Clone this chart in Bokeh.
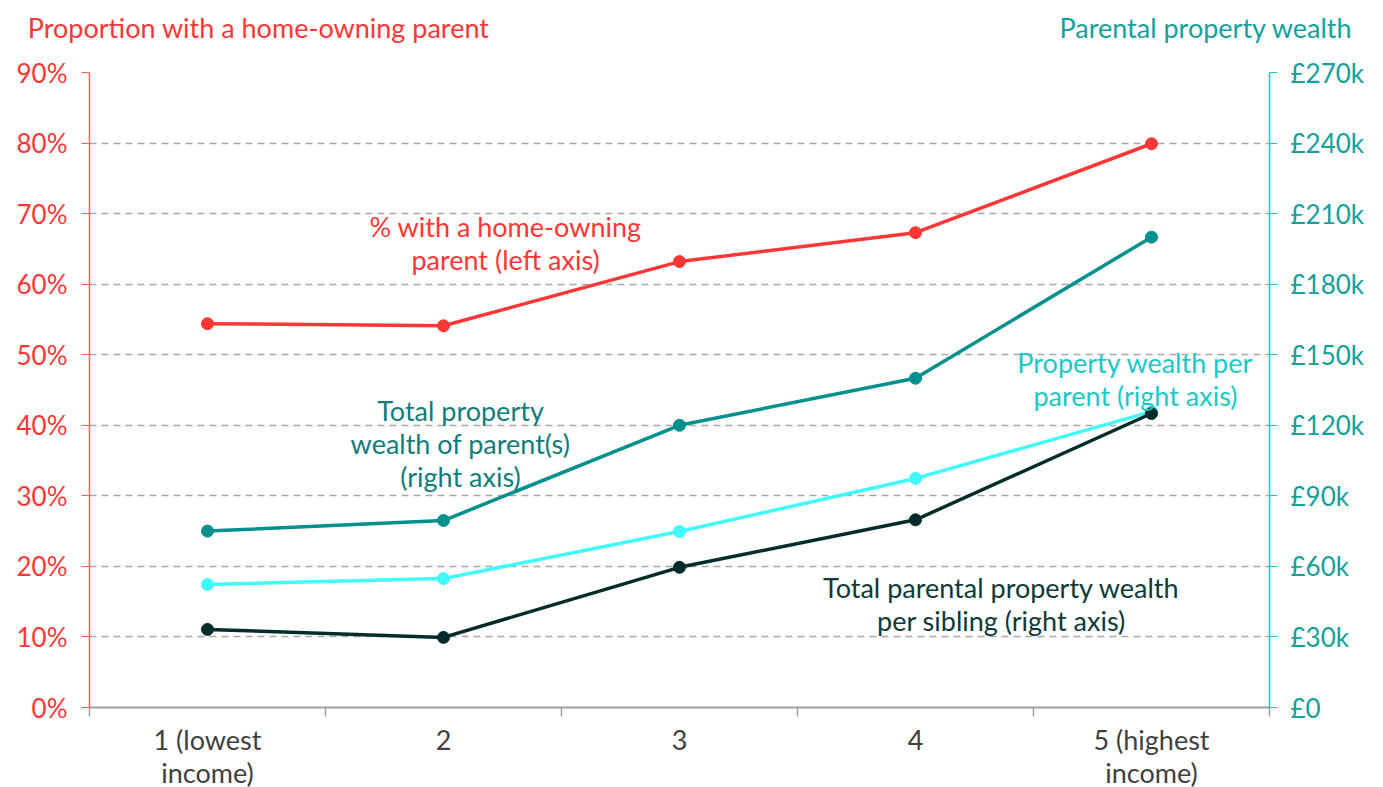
from bokeh.plotting import figure
from bokeh.layouts import column
from bokeh.models import (Range1d, LinearAxis, FixedTicker, Label, ColumnDataSource)
from bokeh.embed import file_html
from bokeh.resources import INLINE

# ---- data ----
categories = ["1 (lowest\nincome)", "2", "3", "4", "5 (highest\nincome)"]
quintile = [1, 2, 3, 4, 5]
pct_home_owning_parent = [54.4, 54.1, 63.2, 67.3, 79.9]          # left axis, %
total_parent_wealth_k = [75.0, 79.5, 120.0, 140.0, 200.0]        # right axis, £k
wealth_per_parent_k = [52.3, 54.8, 74.8, 97.4, 125.8]            # right axis, £k
wealth_per_sibling_k = [33.2, 29.8, 59.6, 79.8, 125.0]           # right axis, £k
left_ticks = [0, 10, 20, 30, 40, 50, 60, 70, 80, 90]
right_ticks = [0, 30, 60, 90, 120, 150, 180, 210, 240, 270]
left_title = "Proportion with a home-owning parent"
right_title = "Parental property wealth"

FONT = "Lato"
FS = "26px"
LFS = "27px"
RED = "#FF3636"
TEAL = "#00908E"
CYAN = "#40FAFA"
DARK = "#022C2B"
RTEXT = "#14A09C"

# ---- header strip: axis titles drawn as (unclipped) axis labels ----
top = figure(width=1383, height=56, output_backend="svg", toolbar_location=None,
             x_range=Range1d(0, 1), y_range=Range1d(0, 56), min_border=0)
top.xaxis.visible = False
top.grid.visible = False
top.outline_line_color = None

def title_axis(ax, text, color, standoff):
    ax.ticker = FixedTicker(ticks=[29])
    ax.major_label_overrides = {29: text}
    ax.axis_line_color = None
    ax.major_tick_line_color = None
    ax.minor_tick_line_color = None
    ax.major_tick_in = 0
    ax.major_tick_out = 0
    ax.major_label_standoff = standoff
    ax.major_label_text_font = FONT
    ax.major_label_text_font_size = LFS
    ax.major_label_text_color = color

title_axis(top.yaxis[0], left_title, RED, -400)
rt = LinearAxis()
title_axis(rt, right_title, RTEXT, -210)
top.add_layout(rt, "right")

# ---- main chart ----
p = figure(frame_width=1180, frame_height=635, output_backend="svg",
           toolbar_location=None, x_range=Range1d(0.5, 5.5),
           y_range=Range1d(0, 90),
           min_border_left=89, min_border_right=114,
           min_border_top=16, min_border_bottom=80)
p.extra_y_ranges = {"w": Range1d(0, 270)}
p.outline_line_color = None
p.background_fill_color = "white"
p.border_fill_color = "white"

# grid
p.xgrid.visible = False
p.ygrid.ticker = FixedTicker(ticks=left_ticks[1:])
p.ygrid.grid_line_color = "#A8A8A8"
p.ygrid.grid_line_dash = "7 5"
p.ygrid.grid_line_width = 1.6

# x axis
xa = p.xaxis[0]
xa.ticker = FixedTicker(ticks=quintile, minor_ticks=[0.5, 1.5, 2.5, 3.5, 4.5, 5.5])
xa.major_label_overrides = {q: c for q, c in zip(quintile, categories)}
xa.major_tick_line_color = None
xa.minor_tick_in = 0
xa.minor_tick_out = 9
xa.minor_tick_line_color = "#A0A0A0"
xa.minor_tick_line_width = 1.5
xa.axis_line_color = "#A0A0A0"
xa.axis_line_width = 2
xa.major_label_text_font = FONT
xa.major_label_text_font_size = LFS
xa.major_label_text_color = "#404040"
xa.major_label_text_line_height = 1.0
xa.major_label_standoff = 6

# left axis
ya = p.yaxis[0]
ya.ticker = FixedTicker(ticks=left_ticks)
ya.major_label_overrides = {t: f"{t}%" for t in left_ticks}
ya.axis_line_color = "#FF5A5A"
ya.axis_line_width = 1.5
ya.major_tick_line_color = "#FF5A5A"
ya.major_tick_in = 0
ya.major_tick_out = 8
ya.minor_tick_line_color = None
ya.major_label_text_font = FONT
ya.major_label_text_font_size = FS
ya.major_label_text_color = RED
ya.major_label_standoff = 14

# right axis
ra = LinearAxis(y_range_name="w")
ra.ticker = FixedTicker(ticks=right_ticks)
ra.major_label_overrides = {t: ("£0" if t == 0 else f"£{t}k") for t in right_ticks}
ra.axis_line_color = "#22C6C6"
ra.axis_line_width = 1.5
ra.major_tick_line_color = "#22C6C6"
ra.major_tick_in = 0
ra.major_tick_out = 8
ra.minor_tick_line_color = None
ra.major_label_text_font = FONT
ra.major_label_text_font_size = FS
ra.major_label_text_color = RTEXT
ra.major_label_standoff = 13
p.add_layout(ra, "right")

# series
src = ColumnDataSource(dict(x=quintile, pct=pct_home_owning_parent,
                            tot=total_parent_wealth_k, par=wealth_per_parent_k,
                            sib=wealth_per_sibling_k))
p.line("x", "pct", source=src, color=RED, line_width=3.5)
p.scatter("x", "pct", source=src, color=RED, size=12)
for col, c in [("tot", TEAL), ("par", CYAN), ("sib", DARK)]:
    p.line("x", col, source=src, color=c, line_width=3.5, y_range_name="w")
    p.scatter("x", col, source=src, color=c, size=12, y_range_name="w")

def lab(x, y, text, color, align="center"):
    p.add_layout(Label(x=x, y=y, text=text, text_color=color, text_align=align,
                       text_baseline="middle", text_font=FONT,
                       text_font_size=LFS, text_line_height=1.0))

# series labels
lab(2.263, 65.8, "% with a home-owning\nparent (left axis)", RED)
lab(2.072, 37.4, "Total property\nwealth of parent(s)\n(right axis)", "#117C7A")
lab(4.932, 46.5, "Property wealth per\nparent (right axis)", "#1CC8C8")
lab(4.364, 14.7, "Total parental property wealth\nper sibling (right axis)", "#0B3A39")

open("out.html", "w").write(file_html(column(top, p, spacing=0), INLINE))
